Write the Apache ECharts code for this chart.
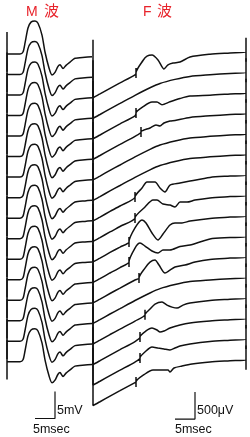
<!DOCTYPE html>
<html>
<head>
<meta charset="utf-8">
<script src="https://cdn.jsdelivr.net/npm/echarts@6/dist/echarts.min.js"></script>
<style>
    html, body { margin: 0; padding: 0; background: #fff; }
    #main { width: 250px; height: 437px; }
</style>
</head>
<body>
<div id="main"></div>
<script>
// M波 1本分 (msec, mV) 16本ともほぼ同じ形
const mWave = [
    [0.25, 0], [3.25, 0], [4.0, 0.37], [4.5, 2.0], [5.25, 4.8], [6.0, 5.9], [7.0, 6.1],
    [7.75, 5.7], [8.75, 3.5], [9.5, 0.37], [10.5, -2.6], [11.25, -3.9], [12.0, -3.4],
    [12.75, -2.3], [13.25, -2.0], [14.0, -2.7], [14.75, -2.1], [15.75, -1.5], [17.0, -0.8],
    [19.5, -0.6], [21.25, -0.5]
];
const mArtifact = [4.07, -3.3];   // 刺激アーチファクト 上端/下端 (mV)
const mStep = 3.8;                // 1本ごとのずれ (mV)
const mEnd = 21.25;               // msec

// F波 基線 (msec, μV 右端=0)
const fBase = [
    [0, -850], [1.75, -780], [4.25, -675], [6.75, -575], [10.5, -425], [14.25, -285],
    [16.75, -205], [20.5, -130], [24.25, -75], [29.25, -45], [34.25, -20], [38.25, 0]
];
const fArtifact = 222;            // 左の縦線の上端 (μV)
const fEndBar = [260, -185];      // 右の縦線 (μV)
const fStep = 380;                // 1本ごとのずれ (μV)
const fTick = 92;                 // 潜時マークの半分の長さ (μV)
const fEnd = 38.25;               // msec

// 各トレースのF波 (最初の点が潜時マーク)
const fWaves = [
    [[10.75, -392], [12.5, -160], [13.5, -80], [14.75, -59], [16.25, -150], [17.75, -318], [18.75, -240], [20, -207], [21.75, -189], [24.25, -96]],
    [],
    [[10.75, -374], [12.75, -244], [14.75, -170], [16, -170], [17.25, -220], [19.25, -165], [21.75, -105], [24.25, -60]],
    [[12, -344], [14.25, -270], [15.75, -215], [16.75, -233], [17.75, -178], [19.25, -141]],
    [],
    [],
    [[10.5, -409], [12.25, -242], [13.5, -131], [15.5, -131], [16.75, -242], [18, -316], [19.25, -187], [21.75, -150], [24.25, -113]],
    [[10.5, -418], [13, -214], [15, -85], [16, -85], [17.5, -159], [19.25, -178], [20.5, -215], [21.75, -122], [23.5, -122], [25.5, -85]],
    [[9, -481], [10.5, -222], [12.25, -74], [13.25, -130], [14.75, -315], [16.25, -444], [17.5, -333], [19.25, -167], [20.5, -130], [22.25, -130], [24.25, -93]],
    [[9, -472], [10.5, -213], [11.75, -120], [13, -176], [14.75, -268], [16.25, -305], [17.5, -250], [19.25, -250], [21.75, -185], [24.25, -157]],
    [[11.5, -389], [13, -204], [14.25, -93], [15.5, -56], [16.5, -148], [18, -296], [19.25, -241], [20.5, -185], [23, -148], [25.5, -93]],
    [],
    [[13, -310], [14.25, -204], [15.5, -111], [17.25, -74], [18.5, -130], [19.75, -167], [21, -185], [22.5, -130], [24.25, -93]],
    [[11.75, -340], [13.25, -229], [14.75, -174], [16, -211], [16.75, -248], [17.75, -229], [19.25, -174], [21.75, -118], [24.25, -81]],
    [[11.75, -350], [13.25, -220], [14.75, -146], [16.25, -165], [17.75, -183], [19.25, -202], [20.5, -165], [21.75, -128], [24.25, -91]],
    [[10.75, -414], [13, -266], [15, -192], [16.75, -192], [18.75, -192], [19.25, -229], [20.25, -155], [22.25, -118], [24.75, -81]]
];

// スケールバーの大きさ
const scaleTime = 5;     // msec
const scaleM = 5;        // mV
const scaleF = 500;      // μV

const traceStyle = {color: '#111', width: 1.5};

const mTrace = (k) => {
    const off = -mStep * k;
    const pts = [[0, mArtifact[0]], [0, mArtifact[1]], [0, 0]].concat(mWave);
    return pts.map(p => [p[0], p[1] + off]);
};

const fTrace = (k) => {
    const off = -fStep * k;
    const w = fWaves[k];
    let pts = [[0, fArtifact]];
    if (w.length) {
        const a = w[0][0], b = w[w.length - 1][0];
        pts = pts.concat(fBase.filter(p => p[0] < a));
        const t = w[0];
        pts.push([t[0], t[1]], [t[0], t[1] + fTick], [t[0], t[1] - fTick]);
        pts = pts.concat(w);
        pts = pts.concat(fBase.filter(p => p[0] > b));
    } else {
        pts = pts.concat(fBase);
    }
    pts.push([fEnd, fEndBar[0]], [fEnd, fEndBar[1]]);
    return pts.map(p => [p[0], p[1] + off]);
};

const series = [];
for (let k = 0; k < fWaves.length; k++) {
    series.push({
        type: 'line', xAxisIndex: 0, yAxisIndex: 0, data: mTrace(k),
        showSymbol: false, smooth: 0.25, lineStyle: traceStyle, silent: true
    });
    series.push({
        type: 'line', xAxisIndex: 1, yAxisIndex: 1, data: fTrace(k),
        showSymbol: false, smooth: 0.25, lineStyle: traceStyle, silent: true
    });
}
// スケールバー
const mBarX = 12, mBarY = -67.5;
series.push({
    type: 'line', xAxisIndex: 0, yAxisIndex: 0, showSymbol: false, silent: true,
    lineStyle: {color: '#111', width: 1.2},
    data: [[mBarX - scaleTime, mBarY], [mBarX, mBarY], [mBarX, mBarY + scaleM]]
});
const fBarX = 25.5, fBarY = -6800;
series.push({
    type: 'line', xAxisIndex: 1, yAxisIndex: 1, showSymbol: false, silent: true,
    lineStyle: {color: '#111', width: 1.2},
    data: [[fBarX - scaleTime, fBarY], [fBarX, fBarY], [fBarX, fBarY + scaleF]]
});

const labelFont = '12.5px "Liberation Sans", sans-serif';
const latinTitle = '14px "Liberation Sans", sans-serif';
const cjkTitle = '15px "Noto Sans CJK JP", sans-serif';
const red = '#e8232b';

const option = {
    animation: false,
    grid: [
        {left: 7, top: 0, width: 85, height: 432},
        {left: 93, top: 0, width: 153, height: 432}
    ],
    xAxis: [
        {type: 'value', gridIndex: 0, min: 0, max: mEnd, show: false},
        {type: 'value', gridIndex: 1, min: 0, max: fEnd, show: false}
    ],
    yAxis: [
        {type: 'value', gridIndex: 0, min: -70, max: 10, show: false},
        {type: 'value', gridIndex: 1, min: -7040, max: 960, show: false}
    ],
    graphic: [
        {type: 'text', left: 26, top: 5, style: {text: 'M', fill: red, font: latinTitle}},
        {type: 'text', left: 44, top: 3, style: {text: '波', fill: red, font: cjkTitle}},
        {type: 'text', left: 143, top: 5, style: {text: 'F', fill: red, font: latinTitle}},
        {type: 'text', left: 157, top: 3, style: {text: '波', fill: red, font: cjkTitle}},
        {type: 'text', left: 57, top: 404, style: {text: '5mV', fill: '#111', font: labelFont}},
        {type: 'text', left: 33, top: 423, style: {text: '5msec', fill: '#111', font: labelFont}},
        {type: 'text', left: 197, top: 404, style: {text: '500μV', fill: '#111', font: labelFont}},
        {type: 'text', left: 175, top: 423, style: {text: '5msec', fill: '#111', font: labelFont}}
    ],
    series: series
};

const myChart = echarts.init(document.getElementById('main'));
myChart.setOption(option);
</script>
</body>
</html>
